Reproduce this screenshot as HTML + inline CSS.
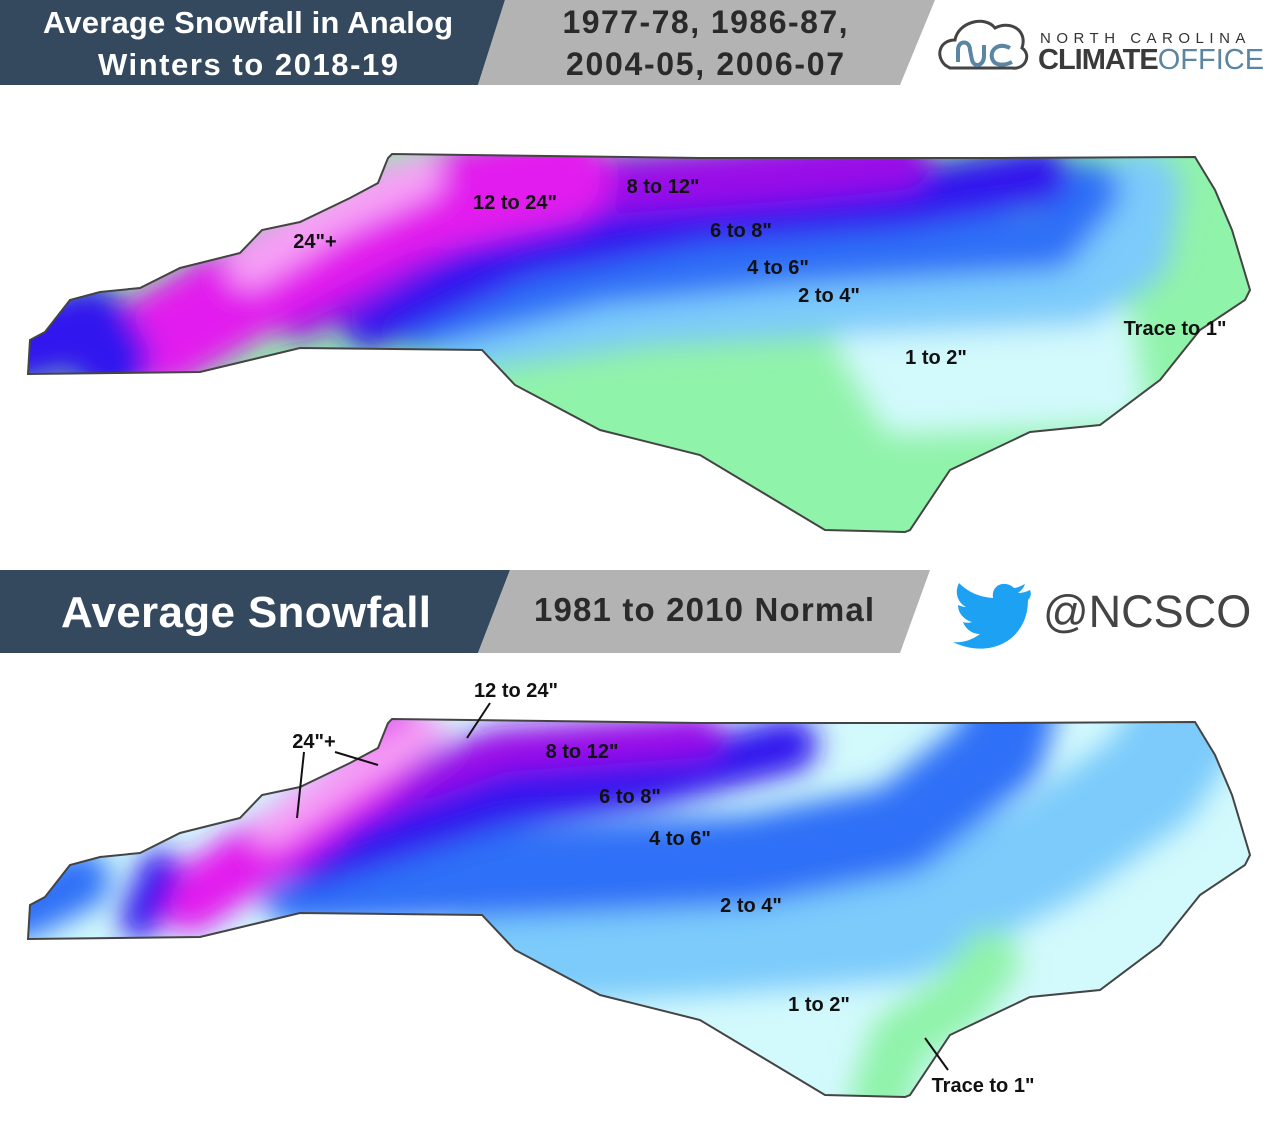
<!DOCTYPE html>
<html><head><meta charset="utf-8"><style>
body{margin:0;width:1280px;height:1138px;background:#fff;overflow:hidden;font-family:"Liberation Sans",sans-serif}
</style></head><body>
<svg width="1280" height="1138" viewBox="0 0 1280 1138" xmlns="http://www.w3.org/2000/svg" font-family="Liberation Sans, sans-serif">
<defs>
<filter id="b" x="-20%" y="-50%" width="140%" height="200%"><feGaussianBlur stdDeviation="14"/></filter>
<path id="nc" d="M30,340 L45,332 L70,300 L100,292 L140,288 L180,268 L240,253 L262,230 L300,222 L350,198 L378,183 L388,158 L392,154 L700,158 L1000,158 L1195,157 L1215,190 L1232,230 L1250,290 L1245,300 L1200,330 L1160,380 L1100,425 L1030,432 L950,470 L910,530 L905,532 L825,530 L700,455 L600,430 L515,385 L482,350 L300,348 L200,372 L28,374 Z"/>
<clipPath id="c1"><use href="#nc"/></clipPath>
<clipPath id="c2"><use href="#nc" transform="translate(0,565)"/></clipPath>
</defs>
<!-- header 1 -->
<polygon points="0,0 505,0 478,85 0,85" fill="#34495e"/>
<polygon points="505,0 935,0 900,85 478,85" fill="#b3b3b3"/>
<text x="248" y="33" fill="#fff" font-size="31" font-weight="bold" text-anchor="middle" textLength="410">Average Snowfall in Analog</text>
<text x="248" y="75" fill="#fff" font-size="31" font-weight="bold" text-anchor="middle" textLength="300">Winters to 2018-19</text>
<text x="705" y="33" fill="#2a2a2a" font-size="32" font-weight="bold" text-anchor="middle" textLength="285">1977-78, 1986-87,</text>
<text x="705" y="75" fill="#2a2a2a" font-size="32" font-weight="bold" text-anchor="middle" textLength="278">2004-05, 2006-07</text>
<!-- logo -->
<path d="M945,65 C935,55 940,40 955,40 C958,22 985,15 995,28 C1010,20 1028,30 1022,48 C1032,55 1025,70 1012,68 L950,68 Z" fill="none" stroke="#444" stroke-width="3"/>
<path d="M958,62 L958,50 C958,40 970,40 970,50 L972,60 C974,68 984,66 984,56 L984,45 M1010,48 C998,42 990,50 992,58 C994,66 1004,66 1012,62" fill="none" stroke="#5b86a3" stroke-width="4"/>
<text x="1040" y="43" fill="#333" font-size="15" letter-spacing="5.5">NORTH CAROLINA</text>
<text x="1038" y="69" fill="#3a3a3a" font-size="29" font-weight="bold" letter-spacing="-1">CLIMATE<tspan font-weight="normal" fill="#5b86a3" letter-spacing="0">OFFICE</tspan></text>
<!-- header 2 -->
<polygon points="0,570 510,570 478,653 0,653" fill="#34495e"/>
<polygon points="510,570 930,570 900,653 478,653" fill="#b3b3b3"/>
<text x="246" y="627" fill="#fff" font-size="44" font-weight="bold" text-anchor="middle" textLength="370">Average Snowfall</text>
<text x="704" y="621" fill="#2a2a2a" font-size="33" font-weight="bold" text-anchor="middle" textLength="340">1981 to 2010 Normal</text>
<path d="M1030,590 C1026,592 1022,593 1018,593 C1022,590 1024,587 1025,584 C1021,586 1017,588 1014,588 C1006,580 991,584 993,598 C978,597 967,591 959,583 C954,593 958,603 966,607 C963,607 961,606 958,605 C958,614 965,620 972,622 C969,623 966,623 963,622 C966,630 973,634 980,634 C972,640 963,643 953,642 C990,660 1028,640 1028,600 C1030,598 1032,595 1030,590 Z" fill="#1da1f2"/>
<text x="1043" y="627" fill="#444" font-size="45">@NCSCO</text>
<!-- map 1 -->
<g clip-path="url(#c1)">
<rect x="0" y="140" width="1280" height="400" fill="#90f3aa"/>
<g filter="url(#b)" fill="none" stroke-linecap="round" stroke-linejoin="round">
<path d="M860,340 L1000,330 L1110,330 L1120,400 L900,410 Z" fill="#d2f9fc" stroke="#d2f9fc" stroke-width="50"/>
<path d="M470,330 L650,305 L850,295 L1080,285 L1130,250 L1140,190" stroke="#7ccbfb" stroke-width="80"/>
<path d="M420,320 L600,275 L800,255 L1050,240 L1090,190" stroke="#2f70f7" stroke-width="60"/>
<path d="M370,320 L520,250 L700,215 L900,200 L1040,175" stroke="#3116ee" stroke-width="60"/>
<path d="M300,310 L450,220 L600,185 L800,170 L900,160" stroke="#9a10e8" stroke-width="60"/>
<path d="M160,340 L280,270 L400,210 L560,175" stroke="#e21fee" stroke-width="100"/>
<path d="M250,265 L330,215 L420,175" stroke="#f7a2f6" stroke-width="45"/>
<path d="M20,345 L90,325 L110,360" stroke="#3116ee" stroke-width="80"/>
</g>
</g>
<use href="#nc" fill="none" stroke="#444" stroke-width="2"/>
<!-- map 2 -->
<g clip-path="url(#c2)">
<rect x="0" y="700" width="1280" height="420" fill="#d2f9fc"/>
<g filter="url(#b)" fill="none" stroke-linecap="round" stroke-linejoin="round">
<path d="M500,950 L700,940 L900,925 L1050,850 L1150,780 L1190,720" stroke="#7ccbfb" stroke-width="110"/>
<path d="M880,1100 L900,1040 L960,1000 L990,960" stroke="#90f3aa" stroke-width="60"/>
<path d="M300,880 L550,870 L750,860 L900,830 L1000,750 L1010,715" stroke="#2f70f7" stroke-width="90"/>
<path d="M310,860 L500,800 L650,780 L790,745" stroke="#3116ee" stroke-width="55"/>
<path d="M360,800 L500,750 L700,735" stroke="#9a10e8" stroke-width="45"/>
<path d="M190,900 L280,840 L360,780 L400,735" stroke="#e21fee" stroke-width="65"/>
<path d="M270,830 L360,770 L430,730" stroke="#f7a2f6" stroke-width="35"/>
<path d="M20,910 L80,880" stroke="#2f70f7" stroke-width="60"/>
<path d="M140,920 L160,870" stroke="#3116ee" stroke-width="40"/>
</g>
</g>
<use href="#nc" transform="translate(0,565)" fill="none" stroke="#444" stroke-width="2"/>
<!-- labels -->
<g font-size="20" font-weight="bold" fill="#111" text-anchor="middle">
<text x="515" y="209">12 to 24"</text>
<text x="663" y="193">8 to 12"</text>
<text x="315" y="248">24"+</text>
<text x="741" y="237">6 to 8"</text>
<text x="778" y="274">4 to 6"</text>
<text x="829" y="302">2 to 4"</text>
<text x="1175" y="335">Trace to 1"</text>
<text x="936" y="364">1 to 2"</text>
<text x="516" y="697">12 to 24"</text>
<text x="314" y="748">24"+</text>
<text x="582" y="758">8 to 12"</text>
<text x="630" y="803">6 to 8"</text>
<text x="680" y="845">4 to 6"</text>
<text x="751" y="912">2 to 4"</text>
<text x="819" y="1011">1 to 2"</text>
<text x="983" y="1092">Trace to 1"</text>
</g>
<g stroke="#111" stroke-width="2">
<line x1="490" y1="703" x2="467" y2="738"/>
<line x1="304" y1="752" x2="297" y2="818"/>
<line x1="335" y1="752" x2="378" y2="765"/>
<line x1="948" y1="1070" x2="925" y2="1038"/>
</g>
</svg>
</body></html>
